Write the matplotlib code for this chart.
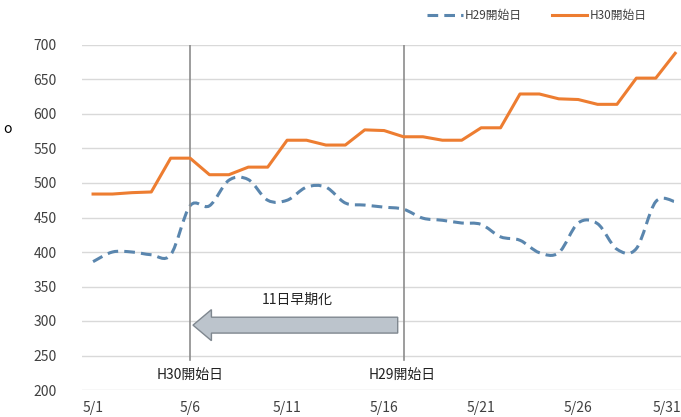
"""Daily counts after season start: H29 vs H30."""

import matplotlib
matplotlib.use("Agg")
import matplotlib.pyplot as plt
import matplotlib.transforms as mtransforms
from matplotlib.patches import FancyArrow, PathPatch
from matplotlib.path import Path
from matplotlib.lines import Line2D

plt.rcParams["font.family"] = ["Noto Sans CJK JP", "DejaVu Sans"]

days = list(range(1, 32))
tick_days = [1, 6, 11, 16, 21, 26, 31]
tick_labels = ["5/1", "5/6", "5/11", "5/16", "5/21", "5/26", "5/31"]

h29 = [386, 400, 400, 396, 396, 467, 467, 504, 505, 475, 475, 494, 494, 471,
       468, 465, 462, 449, 446, 442, 440, 422, 417, 399, 399, 442, 441, 404,
       405, 473, 473]
h30 = [484, 484, 486, 487, 536, 536, 512, 512, 523, 523, 562, 562, 555, 555,
       577, 576, 567, 567, 562, 562, 580, 580, 629, 629, 622, 621, 614, 614,
       652, 652, 688]

h30_start = 6
h29_start = 17

BLUE = "#5A86AE"
ORANGE = "#ED7D31"
GRAY_TXT = "#404040"


def smooth_path(xs, ys, t=1 / 6):
    # Excel-like smoothed line: cubic bezier segments through the data points
    verts = [(xs[0], ys[0])]
    codes = [Path.MOVETO]
    n = len(xs)
    for i in range(n - 1):
        x0, y0 = xs[max(i - 1, 0)], ys[max(i - 1, 0)]
        x1, y1 = xs[i], ys[i]
        x2, y2 = xs[i + 1], ys[i + 1]
        x3, y3 = xs[min(i + 2, n - 1)], ys[min(i + 2, n - 1)]
        c1 = (x1 + (x2 - x0) * t, y1 + (y2 - y0) * t)
        c2 = (x2 - (x3 - x1) * t, y2 - (y3 - y1) * t)
        verts += [c1, c2, (x2, y2)]
        codes += [Path.CURVE4] * 3
    return Path(verts, codes)


fig = plt.figure(figsize=(6.81, 4.17), dpi=100)
ax = fig.add_axes([82 / 681, 27 / 417, 599 / 681, 345 / 417])
ax.set_xlim(0.43, 31.3)
ax.set_ylim(200, 700)

ax.set_yticks(range(200, 701, 50))
ax.grid(axis="y", color="#d9d9d9", lw=1)
ax.set_axisbelow(True)
for s in ax.spines.values():
    s.set_visible(False)
ax.tick_params(length=0, colors=GRAY_TXT, labelsize=10)
ax.tick_params(axis="y", pad=18)
ax.tick_params(axis="x", pad=8)
ax.set_xticks(tick_days)
ax.set_xticklabels(tick_labels)
# last label sits at the right edge; nudge it in a bit
last = ax.get_xticklabels()[-1]
last.set_transform(last.get_transform() + mtransforms.ScaledTranslation(-8 / 100, 0, fig.dpi_scale_trans))

ax.add_patch(PathPatch(smooth_path(days, h29), facecolor="none", edgecolor=BLUE,
                       lw=2.2, linestyle=(0, (3.5, 2)), capstyle="butt"))
ax.plot(days, h30, color=ORANGE, lw=2.2)

# start-day markers
for d in (h30_start, h29_start):
    ax.plot([d, d], [243, 700], color="#8c8c8c", lw=1.2, zorder=1)
ax.text(h30_start, 222, "H30開始日", ha="center", va="center", fontsize=10, color="#222222")
ax.text(h29_start - 0.05, 222, "H29開始日", ha="center", va="center", fontsize=10, color="#222222")

# arrow: 11 days earlier
ax.add_patch(FancyArrow(16.7, 294, -(16.7 - 6.15), 0, width=23, head_width=45,
                        head_length=0.95, length_includes_head=True,
                        facecolor="#BCC4CC", edgecolor="#7f878f", lw=1, zorder=3))
ax.text(11.5, 330, "11日早期化", ha="center", va="center", fontsize=10, color="#222222")

handles = [Line2D([], [], color=BLUE, lw=2.2, dashes=(3.5, 2)),
           Line2D([], [], color=ORANGE, lw=2.2)]
fig.legend(handles, ["H29開始日", "H30開始日"], loc="center right",
           bbox_to_anchor=(0.965, 0.962), ncol=2, frameon=False, fontsize=8.5,
           handlelength=3.0, handletextpad=0.2, columnspacing=2.5, labelcolor=GRAY_TXT)

fig.text(3 / 681, 1 - 129 / 417, "o", ha="left", va="center", fontsize=10)

fig.savefig("out.png", dpi=100)
plt.close(fig)
